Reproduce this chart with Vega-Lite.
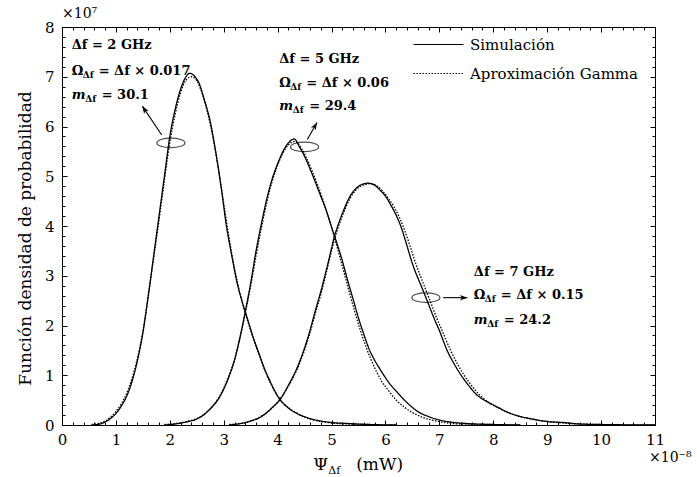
{
  "$schema": "https://vega.github.io/schema/vega-lite/v6.json",
  "width": 593,
  "height": 398,
  "autosize": "none",
  "padding": {"left": 62, "top": 27, "right": 42, "bottom": 52},
  "background": "white",
  "config": {
    "view": {"stroke": "black", "strokeWidth": 1},
    "font": "DejaVu Serif",
    "axis": {"domainColor": "black", "tickColor": "black", "labelColor": "black", "titleColor": "black", "grid": false, "labelFont": "DejaVu Serif", "titleFont": "DejaVu Serif", "domainWidth": 1, "tickWidth": 1}
  },
  "datasets": {
    "curves": [
      {"c":"a","t":"Simulación","x":0.55,"y":0},{"c":"a","t":"Simulación","x":0.7,"y":0.02},{"c":"a","t":"Simulación","x":0.8,"y":0.06},{"c":"a","t":"Simulación","x":0.9,"y":0.13},{"c":"a","t":"Simulación","x":1.0,"y":0.23},{"c":"a","t":"Simulación","x":1.1,"y":0.38},{"c":"a","t":"Simulación","x":1.2,"y":0.58},{"c":"a","t":"Simulación","x":1.3,"y":0.88},{"c":"a","t":"Simulación","x":1.4,"y":1.3},{"c":"a","t":"Simulación","x":1.5,"y":1.85},{"c":"a","t":"Simulación","x":1.6,"y":2.6},{"c":"a","t":"Simulación","x":1.7,"y":3.4},{"c":"a","t":"Simulación","x":1.8,"y":4.2},{"c":"a","t":"Simulación","x":1.9,"y":5.0},{"c":"a","t":"Simulación","x":2.0,"y":5.8},{"c":"a","t":"Simulación","x":2.1,"y":6.35},{"c":"a","t":"Simulación","x":2.2,"y":6.75},{"c":"a","t":"Simulación","x":2.3,"y":7.0},{"c":"a","t":"Simulación","x":2.37,"y":7.07},{"c":"a","t":"Simulación","x":2.45,"y":7.02},{"c":"a","t":"Simulación","x":2.55,"y":6.85},{"c":"a","t":"Simulación","x":2.65,"y":6.5},{"c":"a","t":"Simulación","x":2.75,"y":6.1},{"c":"a","t":"Simulación","x":2.85,"y":5.5},{"c":"a","t":"Simulación","x":2.95,"y":4.8},{"c":"a","t":"Simulación","x":3.05,"y":4.0},{"c":"a","t":"Simulación","x":3.15,"y":3.4},{"c":"a","t":"Simulación","x":3.25,"y":2.85},{"c":"a","t":"Simulación","x":3.35,"y":2.45},{"c":"a","t":"Simulación","x":3.45,"y":2.1},{"c":"a","t":"Simulación","x":3.55,"y":1.75},{"c":"a","t":"Simulación","x":3.65,"y":1.45},{"c":"a","t":"Simulación","x":3.75,"y":1.15},{"c":"a","t":"Simulación","x":3.85,"y":0.9},{"c":"a","t":"Simulación","x":3.95,"y":0.68},{"c":"a","t":"Simulación","x":4.05,"y":0.5},{"c":"a","t":"Simulación","x":4.2,"y":0.34},{"c":"a","t":"Simulación","x":4.4,"y":0.21},{"c":"a","t":"Simulación","x":4.6,"y":0.13},{"c":"a","t":"Simulación","x":4.8,"y":0.08},{"c":"a","t":"Simulación","x":5.0,"y":0.05},{"c":"a","t":"Simulación","x":5.3,"y":0.03},{"c":"a","t":"Simulación","x":5.7,"y":0.01},{"c":"a","t":"Simulación","x":6.2,"y":0},
      {"c":"b","t":"Simulación","x":1.9,"y":0},{"c":"b","t":"Simulación","x":2.1,"y":0.02},{"c":"b","t":"Simulación","x":2.3,"y":0.06},{"c":"b","t":"Simulación","x":2.5,"y":0.12},{"c":"b","t":"Simulación","x":2.6,"y":0.18},{"c":"b","t":"Simulación","x":2.7,"y":0.27},{"c":"b","t":"Simulación","x":2.8,"y":0.38},{"c":"b","t":"Simulación","x":2.9,"y":0.52},{"c":"b","t":"Simulación","x":3.0,"y":0.72},{"c":"b","t":"Simulación","x":3.1,"y":0.98},{"c":"b","t":"Simulación","x":3.2,"y":1.3},{"c":"b","t":"Simulación","x":3.3,"y":1.75},{"c":"b","t":"Simulación","x":3.4,"y":2.28},{"c":"b","t":"Simulación","x":3.5,"y":2.85},{"c":"b","t":"Simulación","x":3.6,"y":3.5},{"c":"b","t":"Simulación","x":3.7,"y":4.05},{"c":"b","t":"Simulación","x":3.8,"y":4.55},{"c":"b","t":"Simulación","x":3.9,"y":4.95},{"c":"b","t":"Simulación","x":4.0,"y":5.25},{"c":"b","t":"Simulación","x":4.1,"y":5.5},{"c":"b","t":"Simulación","x":4.2,"y":5.67},{"c":"b","t":"Simulación","x":4.31,"y":5.75},{"c":"b","t":"Simulación","x":4.4,"y":5.6},{"c":"b","t":"Simulación","x":4.5,"y":5.4},{"c":"b","t":"Simulación","x":4.6,"y":5.15},{"c":"b","t":"Simulación","x":4.7,"y":4.88},{"c":"b","t":"Simulación","x":4.8,"y":4.6},{"c":"b","t":"Simulación","x":4.9,"y":4.32},{"c":"b","t":"Simulación","x":5.0,"y":3.98},{"c":"b","t":"Simulación","x":5.1,"y":3.65},{"c":"b","t":"Simulación","x":5.2,"y":3.3},{"c":"b","t":"Simulación","x":5.3,"y":2.9},{"c":"b","t":"Simulación","x":5.4,"y":2.53},{"c":"b","t":"Simulación","x":5.5,"y":2.15},{"c":"b","t":"Simulación","x":5.6,"y":1.82},{"c":"b","t":"Simulación","x":5.7,"y":1.52},{"c":"b","t":"Simulación","x":5.8,"y":1.3},{"c":"b","t":"Simulación","x":5.9,"y":1.12},{"c":"b","t":"Simulación","x":6.0,"y":0.95},{"c":"b","t":"Simulación","x":6.1,"y":0.8},{"c":"b","t":"Simulación","x":6.2,"y":0.68},{"c":"b","t":"Simulación","x":6.3,"y":0.56},{"c":"b","t":"Simulación","x":6.45,"y":0.4},{"c":"b","t":"Simulación","x":6.6,"y":0.27},{"c":"b","t":"Simulación","x":6.8,"y":0.17},{"c":"b","t":"Simulación","x":7.0,"y":0.1},{"c":"b","t":"Simulación","x":7.2,"y":0.06},{"c":"b","t":"Simulación","x":7.5,"y":0.03},{"c":"b","t":"Simulación","x":8.0,"y":0.01},{"c":"b","t":"Simulación","x":8.5,"y":0},
      {"c":"c","t":"Simulación","x":3.1,"y":0},{"c":"c","t":"Simulación","x":3.36,"y":0.04},{"c":"c","t":"Simulación","x":3.5,"y":0.08},{"c":"c","t":"Simulación","x":3.67,"y":0.15},{"c":"c","t":"Simulación","x":3.8,"y":0.25},{"c":"c","t":"Simulación","x":3.9,"y":0.35},{"c":"c","t":"Simulación","x":4.03,"y":0.49},{"c":"c","t":"Simulación","x":4.2,"y":0.8},{"c":"c","t":"Simulación","x":4.4,"y":1.25},{"c":"c","t":"Simulación","x":4.6,"y":1.9},{"c":"c","t":"Simulación","x":4.7,"y":2.3},{"c":"c","t":"Simulación","x":4.8,"y":2.68},{"c":"c","t":"Simulación","x":4.9,"y":3.1},{"c":"c","t":"Simulación","x":5.0,"y":3.55},{"c":"c","t":"Simulación","x":5.06,"y":3.82},{"c":"c","t":"Simulación","x":5.1,"y":3.95},{"c":"c","t":"Simulación","x":5.2,"y":4.25},{"c":"c","t":"Simulación","x":5.34,"y":4.59},{"c":"c","t":"Simulación","x":5.45,"y":4.75},{"c":"c","t":"Simulación","x":5.55,"y":4.83},{"c":"c","t":"Simulación","x":5.68,"y":4.86},{"c":"c","t":"Simulación","x":5.8,"y":4.82},{"c":"c","t":"Simulación","x":5.9,"y":4.72},{"c":"c","t":"Simulación","x":6.0,"y":4.6},{"c":"c","t":"Simulación","x":6.1,"y":4.42},{"c":"c","t":"Simulación","x":6.21,"y":4.19},{"c":"c","t":"Simulación","x":6.3,"y":3.95},{"c":"c","t":"Simulación","x":6.4,"y":3.6},{"c":"c","t":"Simulación","x":6.52,"y":3.18},{"c":"c","t":"Simulación","x":6.65,"y":2.83},{"c":"c","t":"Simulación","x":6.77,"y":2.51},{"c":"c","t":"Simulación","x":6.9,"y":2.15},{"c":"c","t":"Simulación","x":7.0,"y":1.9},{"c":"c","t":"Simulación","x":7.14,"y":1.51},{"c":"c","t":"Simulación","x":7.3,"y":1.18},{"c":"c","t":"Simulación","x":7.51,"y":0.84},{"c":"c","t":"Simulación","x":7.7,"y":0.6},{"c":"c","t":"Simulación","x":7.9,"y":0.46},{"c":"c","t":"Simulación","x":8.06,"y":0.37},{"c":"c","t":"Simulación","x":8.3,"y":0.24},{"c":"c","t":"Simulación","x":8.5,"y":0.17},{"c":"c","t":"Simulación","x":8.68,"y":0.13},{"c":"c","t":"Simulación","x":9.0,"y":0.07},{"c":"c","t":"Simulación","x":9.3,"y":0.05},{"c":"c","t":"Simulación","x":9.6,"y":0.02},{"c":"c","t":"Simulación","x":10.0,"y":0.01},{"c":"c","t":"Simulación","x":11.0,"y":0},
      {"c":"d","t":"Aproximación Gamma","x":0.55,"y":0.01},{"c":"d","t":"Aproximación Gamma","x":0.7,"y":0.04},{"c":"d","t":"Aproximación Gamma","x":0.8,"y":0.08},{"c":"d","t":"Aproximación Gamma","x":0.9,"y":0.16},{"c":"d","t":"Aproximación Gamma","x":1.0,"y":0.27},{"c":"d","t":"Aproximación Gamma","x":1.1,"y":0.43},{"c":"d","t":"Aproximación Gamma","x":1.2,"y":0.64},{"c":"d","t":"Aproximación Gamma","x":1.3,"y":0.94},{"c":"d","t":"Aproximación Gamma","x":1.4,"y":1.34},{"c":"d","t":"Aproximación Gamma","x":1.5,"y":1.88},{"c":"d","t":"Aproximación Gamma","x":1.6,"y":2.58},{"c":"d","t":"Aproximación Gamma","x":1.7,"y":3.35},{"c":"d","t":"Aproximación Gamma","x":1.8,"y":4.12},{"c":"d","t":"Aproximación Gamma","x":1.9,"y":4.92},{"c":"d","t":"Aproximación Gamma","x":2.0,"y":5.68},{"c":"d","t":"Aproximación Gamma","x":2.1,"y":6.25},{"c":"d","t":"Aproximación Gamma","x":2.2,"y":6.68},{"c":"d","t":"Aproximación Gamma","x":2.3,"y":6.93},{"c":"d","t":"Aproximación Gamma","x":2.4,"y":7.0},{"c":"d","t":"Aproximación Gamma","x":2.5,"y":6.92},{"c":"d","t":"Aproximación Gamma","x":2.6,"y":6.66},{"c":"d","t":"Aproximación Gamma","x":2.7,"y":6.28},{"c":"d","t":"Aproximación Gamma","x":2.8,"y":5.78},{"c":"d","t":"Aproximación Gamma","x":2.9,"y":5.15},{"c":"d","t":"Aproximación Gamma","x":3.0,"y":4.45},{"c":"d","t":"Aproximación Gamma","x":3.1,"y":3.75},{"c":"d","t":"Aproximación Gamma","x":3.2,"y":3.15},{"c":"d","t":"Aproximación Gamma","x":3.3,"y":2.65},{"c":"d","t":"Aproximación Gamma","x":3.4,"y":2.25},{"c":"d","t":"Aproximación Gamma","x":3.5,"y":1.9},{"c":"d","t":"Aproximación Gamma","x":3.6,"y":1.58},{"c":"d","t":"Aproximación Gamma","x":3.7,"y":1.28},{"c":"d","t":"Aproximación Gamma","x":3.8,"y":1.0},{"c":"d","t":"Aproximación Gamma","x":3.9,"y":0.77},{"c":"d","t":"Aproximación Gamma","x":4.0,"y":0.58},{"c":"d","t":"Aproximación Gamma","x":4.1,"y":0.45},{"c":"d","t":"Aproximación Gamma","x":4.2,"y":0.35},{"c":"d","t":"Aproximación Gamma","x":4.4,"y":0.21},{"c":"d","t":"Aproximación Gamma","x":4.6,"y":0.12},{"c":"d","t":"Aproximación Gamma","x":4.8,"y":0.07},{"c":"d","t":"Aproximación Gamma","x":5.0,"y":0.04},{"c":"d","t":"Aproximación Gamma","x":5.3,"y":0.02},{"c":"d","t":"Aproximación Gamma","x":5.7,"y":0.01},{"c":"d","t":"Aproximación Gamma","x":6.2,"y":0},
      {"c":"e","t":"Aproximación Gamma","x":1.9,"y":0.01},{"c":"e","t":"Aproximación Gamma","x":2.1,"y":0.03},{"c":"e","t":"Aproximación Gamma","x":2.3,"y":0.07},{"c":"e","t":"Aproximación Gamma","x":2.5,"y":0.13},{"c":"e","t":"Aproximación Gamma","x":2.6,"y":0.19},{"c":"e","t":"Aproximación Gamma","x":2.7,"y":0.28},{"c":"e","t":"Aproximación Gamma","x":2.8,"y":0.39},{"c":"e","t":"Aproximación Gamma","x":2.9,"y":0.54},{"c":"e","t":"Aproximación Gamma","x":3.0,"y":0.74},{"c":"e","t":"Aproximación Gamma","x":3.1,"y":1.0},{"c":"e","t":"Aproximación Gamma","x":3.2,"y":1.32},{"c":"e","t":"Aproximación Gamma","x":3.3,"y":1.75},{"c":"e","t":"Aproximación Gamma","x":3.4,"y":2.25},{"c":"e","t":"Aproximación Gamma","x":3.5,"y":2.8},{"c":"e","t":"Aproximación Gamma","x":3.6,"y":3.4},{"c":"e","t":"Aproximación Gamma","x":3.7,"y":3.97},{"c":"e","t":"Aproximación Gamma","x":3.8,"y":4.48},{"c":"e","t":"Aproximación Gamma","x":3.9,"y":4.9},{"c":"e","t":"Aproximación Gamma","x":4.0,"y":5.22},{"c":"e","t":"Aproximación Gamma","x":4.1,"y":5.47},{"c":"e","t":"Aproximación Gamma","x":4.2,"y":5.63},{"c":"e","t":"Aproximación Gamma","x":4.33,"y":5.7},{"c":"e","t":"Aproximación Gamma","x":4.43,"y":5.58},{"c":"e","t":"Aproximación Gamma","x":4.53,"y":5.38},{"c":"e","t":"Aproximación Gamma","x":4.63,"y":5.13},{"c":"e","t":"Aproximación Gamma","x":4.73,"y":4.86},{"c":"e","t":"Aproximación Gamma","x":4.83,"y":4.56},{"c":"e","t":"Aproximación Gamma","x":4.93,"y":4.22},{"c":"e","t":"Aproximación Gamma","x":5.03,"y":3.86},{"c":"e","t":"Aproximación Gamma","x":5.13,"y":3.47},{"c":"e","t":"Aproximación Gamma","x":5.23,"y":3.07},{"c":"e","t":"Aproximación Gamma","x":5.33,"y":2.67},{"c":"e","t":"Aproximación Gamma","x":5.43,"y":2.28},{"c":"e","t":"Aproximación Gamma","x":5.53,"y":1.92},{"c":"e","t":"Aproximación Gamma","x":5.63,"y":1.6},{"c":"e","t":"Aproximación Gamma","x":5.73,"y":1.32},{"c":"e","t":"Aproximación Gamma","x":5.83,"y":1.08},{"c":"e","t":"Aproximación Gamma","x":5.93,"y":0.88},{"c":"e","t":"Aproximación Gamma","x":6.05,"y":0.7},{"c":"e","t":"Aproximación Gamma","x":6.2,"y":0.5},{"c":"e","t":"Aproximación Gamma","x":6.35,"y":0.36},{"c":"e","t":"Aproximación Gamma","x":6.5,"y":0.25},{"c":"e","t":"Aproximación Gamma","x":6.7,"y":0.15},{"c":"e","t":"Aproximación Gamma","x":6.9,"y":0.09},{"c":"e","t":"Aproximación Gamma","x":7.1,"y":0.05},{"c":"e","t":"Aproximación Gamma","x":7.4,"y":0.02},{"c":"e","t":"Aproximación Gamma","x":8.0,"y":0.01},{"c":"e","t":"Aproximación Gamma","x":8.5,"y":0},
      {"c":"f","t":"Aproximación Gamma","x":3.1,"y":0.01},{"c":"f","t":"Aproximación Gamma","x":3.36,"y":0.04},{"c":"f","t":"Aproximación Gamma","x":3.5,"y":0.08},{"c":"f","t":"Aproximación Gamma","x":3.67,"y":0.16},{"c":"f","t":"Aproximación Gamma","x":3.8,"y":0.25},{"c":"f","t":"Aproximación Gamma","x":3.9,"y":0.35},{"c":"f","t":"Aproximación Gamma","x":4.03,"y":0.5},{"c":"f","t":"Aproximación Gamma","x":4.2,"y":0.78},{"c":"f","t":"Aproximación Gamma","x":4.4,"y":1.22},{"c":"f","t":"Aproximación Gamma","x":4.6,"y":1.85},{"c":"f","t":"Aproximación Gamma","x":4.7,"y":2.25},{"c":"f","t":"Aproximación Gamma","x":4.8,"y":2.62},{"c":"f","t":"Aproximación Gamma","x":4.9,"y":3.05},{"c":"f","t":"Aproximación Gamma","x":5.0,"y":3.5},{"c":"f","t":"Aproximación Gamma","x":5.1,"y":3.9},{"c":"f","t":"Aproximación Gamma","x":5.2,"y":4.2},{"c":"f","t":"Aproximación Gamma","x":5.34,"y":4.55},{"c":"f","t":"Aproximación Gamma","x":5.45,"y":4.72},{"c":"f","t":"Aproximación Gamma","x":5.58,"y":4.82},{"c":"f","t":"Aproximación Gamma","x":5.72,"y":4.85},{"c":"f","t":"Aproximación Gamma","x":5.85,"y":4.8},{"c":"f","t":"Aproximación Gamma","x":5.95,"y":4.7},{"c":"f","t":"Aproximación Gamma","x":6.05,"y":4.56},{"c":"f","t":"Aproximación Gamma","x":6.15,"y":4.4},{"c":"f","t":"Aproximación Gamma","x":6.26,"y":4.17},{"c":"f","t":"Aproximación Gamma","x":6.35,"y":3.93},{"c":"f","t":"Aproximación Gamma","x":6.45,"y":3.62},{"c":"f","t":"Aproximación Gamma","x":6.57,"y":3.22},{"c":"f","t":"Aproximación Gamma","x":6.7,"y":2.85},{"c":"f","t":"Aproximación Gamma","x":6.82,"y":2.52},{"c":"f","t":"Aproximación Gamma","x":6.95,"y":2.15},{"c":"f","t":"Aproximación Gamma","x":7.05,"y":1.9},{"c":"f","t":"Aproximación Gamma","x":7.2,"y":1.52},{"c":"f","t":"Aproximación Gamma","x":7.35,"y":1.2},{"c":"f","t":"Aproximación Gamma","x":7.55,"y":0.86},{"c":"f","t":"Aproximación Gamma","x":7.75,"y":0.6},{"c":"f","t":"Aproximación Gamma","x":7.95,"y":0.43},{"c":"f","t":"Aproximación Gamma","x":8.1,"y":0.34},{"c":"f","t":"Aproximación Gamma","x":8.3,"y":0.24},{"c":"f","t":"Aproximación Gamma","x":8.5,"y":0.17},{"c":"f","t":"Aproximación Gamma","x":8.7,"y":0.12},{"c":"f","t":"Aproximación Gamma","x":9.0,"y":0.07},{"c":"f","t":"Aproximación Gamma","x":9.3,"y":0.04},{"c":"f","t":"Aproximación Gamma","x":9.6,"y":0.02},{"c":"f","t":"Aproximación Gamma","x":10.0,"y":0.01},{"c":"f","t":"Aproximación Gamma","x":11.0,"y":0}
    ],
    "notes": [
      {"x":0.18,"y":7.64,"k":"h","sym":"Δf = 2 GHz","sub":"","rest":""},
      {"x":0.18,"y":7.12,"k":"o","sym":"Ω","sub":"Δf","rest":"= Δf × 0.017"},
      {"x":0.18,"y":6.63,"k":"m","sym":"m","sub":"Δf","rest":"= 30.1"},
      {"x":4.03,"y":7.36,"k":"h","sym":"Δf = 5 GHz","sub":"","rest":""},
      {"x":4.03,"y":6.87,"k":"o","sym":"Ω","sub":"Δf","rest":"= Δf × 0.06"},
      {"x":4.03,"y":6.41,"k":"m","sym":"m","sub":"Δf","rest":"= 29.4"},
      {"x":7.64,"y":3.08,"k":"h","sym":"Δf = 7 GHz","sub":"","rest":""},
      {"x":7.64,"y":2.61,"k":"o","sym":"Ω","sub":"Δf","rest":"= Δf × 0.15"},
      {"x":7.64,"y":2.11,"k":"m","sym":"m","sub":"Δf","rest":"= 24.2"}
    ],
    "ellipses": [
      {"x":2.02,"y":5.67},{"x":4.5,"y":5.59},{"x":6.75,"y":2.56}
    ],
    "arrows": [
      {"x":1.85,"y":5.83,"x2":1.49,"y2":6.41,"angle":327},
      {"x":4.55,"y":5.74,"x2":4.73,"y2":6.08,"angle":30},
      {"x":7.07,"y":2.56,"x2":7.52,"y2":2.56,"angle":90}
    ],
    "origin": [{"x":0,"y":0,"x8":11,"y8":8}]
  },
  "layer": [
    {
      "data": {"name": "curves"},
      "mark": {"type": "line", "color": "black", "strokeWidth": 1.3, "interpolate": "monotone"},
      "encoding": {
        "x": {"field": "x", "type": "quantitative", "scale": {"domain": [0, 11], "nice": false, "zero": false},
              "axis": {"orient": "bottom", "values": [0,1,2,3,4,5,6,7,8,9,10,11], "format": "d", "tickSize": -5, "labelPadding": 12, "labelFontSize": 15, "title": null, "labelFlush": false, "labelOverlap": false}},
        "y": {"field": "y", "type": "quantitative", "scale": {"domain": [0, 8], "nice": false},
              "axis": {"orient": "left", "values": [0,1,2,3,4,5,6,7,8], "format": "d", "tickSize": -5, "labelPadding": 13, "labelFontSize": 15, "labelFlush": false, "labelOverlap": false,
                       "title": "Función densidad de probabilidad", "titleFontSize": 17, "titleFontWeight": "normal", "titleX": -28, "titleY": 211, "titleAngle": -90, "titleBaseline": "bottom", "titleAlign": "center"}},
        "detail": {"field": "c"},
        "strokeDash": {"field": "t", "type": "nominal",
                       "scale": {"domain": ["Simulación", "Aproximación Gamma"], "range": [[1, 0], [1.5, 1.5]]},
                       "legend": {"orient": "none", "legendX": 369, "legendY": 10, "title": null, "symbolType": "M-5,0L5,0", "symbolSize": 100, "symbolStrokeWidth": 1.2, "symbolStrokeColor": "black", "symbolFillColor": "transparent", "labelFontSize": 15, "labelFont": "DejaVu Serif", "labelColor": "black", "rowPadding": 13, "labelOffset": 24, "labelLimit": 400, "padding": 0}}
      }
    },
    {
      "data": {"name": "ellipses"},
      "mark": {"type": "point", "filled": false, "stroke": "black", "strokeWidth": 1.2, "size": 784, "shape": "M-1,0A1,0.34,0,1,1,1,0A1,0.34,0,1,1,-1,0Z"},
      "encoding": {
        "x": {"field": "x", "type": "quantitative", "scale": {"domain": [0, 11], "nice": false, "zero": false},
              "axis": {"orient": "bottom", "values": [0.2,0.4,0.6,0.8,1.2,1.4,1.6,1.8,2.2,2.4,2.6,2.8,3.2,3.4,3.6,3.8,4.2,4.4,4.6,4.8,5.2,5.4,5.6,5.8,6.2,6.4,6.6,6.8,7.2,7.4,7.6,7.8,8.2,8.4,8.6,8.8,9.2,9.4,9.6,9.8,10.2,10.4,10.6,10.8], "tickSize": -3, "labels": false, "domain": false, "title": null}},
        "y": {"field": "y", "type": "quantitative", "scale": {"domain": [0, 8], "nice": false},
              "axis": {"orient": "left", "values": [0.2,0.4,0.6,0.8,1.2,1.4,1.6,1.8,2.2,2.4,2.6,2.8,3.2,3.4,3.6,3.8,4.2,4.4,4.6,4.8,5.2,5.4,5.6,5.8,6.2,6.4,6.6,6.8,7.2,7.4,7.6,7.8], "tickSize": -3, "labels": false, "domain": false, "title": null}}
      }
    },
    {
      "data": {"name": "arrows"},
      "mark": {"type": "rule", "color": "black", "strokeWidth": 1.1},
      "encoding": {
        "x": {"field": "x", "type": "quantitative", "scale": {"domain": [0, 11], "nice": false, "zero": false},
              "axis": {"orient": "top", "values": [0,1,2,3,4,5,6,7,8,9,10,11], "tickSize": -5, "labels": false, "title": null}},
        "y": {"field": "y", "type": "quantitative", "scale": {"domain": [0, 8], "nice": false},
              "axis": {"orient": "right", "values": [0,1,2,3,4,5,6,7,8], "tickSize": -5, "labels": false, "title": null}},
        "x2": {"field": "x2"},
        "y2": {"field": "y2"}
      }
    },
    {
      "data": {"name": "arrows"},
      "mark": {"type": "point", "filled": true, "color": "black", "size": 100, "shape": "M0,0L0.55,1.5L0,1.1L-0.55,1.5Z", "opacity": 1},
      "encoding": {
        "x": {"field": "x2", "type": "quantitative", "scale": {"domain": [0, 11], "nice": false, "zero": false},
              "axis": {"orient": "top", "values": [0.2,0.4,0.6,0.8,1.2,1.4,1.6,1.8,2.2,2.4,2.6,2.8,3.2,3.4,3.6,3.8,4.2,4.4,4.6,4.8,5.2,5.4,5.6,5.8,6.2,6.4,6.6,6.8,7.2,7.4,7.6,7.8,8.2,8.4,8.6,8.8,9.2,9.4,9.6,9.8,10.2,10.4,10.6,10.8], "tickSize": -3, "labels": false, "domain": false, "title": null}},
        "y": {"field": "y2", "type": "quantitative", "scale": {"domain": [0, 8], "nice": false},
              "axis": {"orient": "right", "values": [0.2,0.4,0.6,0.8,1.2,1.4,1.6,1.8,2.2,2.4,2.6,2.8,3.2,3.4,3.6,3.8,4.2,4.4,4.6,4.8,5.2,5.4,5.6,5.8,6.2,6.4,6.6,6.8,7.2,7.4,7.6,7.8], "tickSize": -3, "labels": false, "domain": false, "title": null}},
        "angle": {"field": "angle", "type": "quantitative", "scale": null}
      }
    },
    {
      "data": {"name": "notes"},
      "transform": [{"filter": "datum.k !== 'm'"}],
      "mark": {"type": "text", "align": "left", "baseline": "middle", "fontSize": 13, "fontWeight": "bold", "font": "DejaVu Serif", "color": "black"},
      "encoding": {
        "x": {"field": "x", "type": "quantitative", "axis": null},
        "y": {"field": "y", "type": "quantitative", "axis": null},
        "text": {"field": "sym"}
      }
    },
    {
      "data": {"name": "notes"},
      "transform": [{"filter": "datum.k === 'm'"}],
      "mark": {"type": "text", "align": "left", "baseline": "middle", "fontSize": 13, "fontWeight": "bold", "fontStyle": "italic", "font": "DejaVu Serif", "color": "black"},
      "encoding": {
        "x": {"field": "x", "type": "quantitative", "axis": null},
        "y": {"field": "y", "type": "quantitative", "axis": null},
        "text": {"field": "sym"}
      }
    },
    {
      "data": {"name": "notes"},
      "transform": [{"filter": "datum.k === 'o'"}],
      "mark": {"type": "text", "align": "left", "baseline": "middle", "fontSize": 9, "fontWeight": "bold", "font": "DejaVu Serif", "color": "black", "dx": 11, "dy": 4},
      "encoding": {
        "x": {"field": "x", "type": "quantitative", "axis": null},
        "y": {"field": "y", "type": "quantitative", "axis": null},
        "text": {"field": "sub"}
      }
    },
    {
      "data": {"name": "notes"},
      "transform": [{"filter": "datum.k === 'm'"}],
      "mark": {"type": "text", "align": "left", "baseline": "middle", "fontSize": 9, "fontWeight": "bold", "font": "DejaVu Serif", "color": "black", "dx": 13.5, "dy": 4},
      "encoding": {
        "x": {"field": "x", "type": "quantitative", "axis": null},
        "y": {"field": "y", "type": "quantitative", "axis": null},
        "text": {"field": "sub"}
      }
    },
    {
      "data": {"name": "notes"},
      "transform": [{"filter": "datum.k === 'o'"}],
      "mark": {"type": "text", "align": "left", "baseline": "middle", "fontSize": 13, "fontWeight": "bold", "font": "DejaVu Serif", "color": "black", "dx": 27},
      "encoding": {
        "x": {"field": "x", "type": "quantitative", "axis": null},
        "y": {"field": "y", "type": "quantitative", "axis": null},
        "text": {"field": "rest"}
      }
    },
    {
      "data": {"name": "notes"},
      "transform": [{"filter": "datum.k === 'm'"}],
      "mark": {"type": "text", "align": "left", "baseline": "middle", "fontSize": 13, "fontWeight": "bold", "font": "DejaVu Serif", "color": "black", "dx": 30},
      "encoding": {
        "x": {"field": "x", "type": "quantitative", "axis": null},
        "y": {"field": "y", "type": "quantitative", "axis": null},
        "text": {"field": "rest"}
      }
    },
    {
      "data": {"name": "origin"},
      "mark": {"type": "text", "align": "left", "baseline": "middle", "fontSize": 14, "font": "DejaVu Serif", "color": "black", "dx": 0, "dy": -13, "text": "×10⁷"},
      "encoding": {
        "x": {"field": "x", "type": "quantitative", "axis": null},
        "y": {"field": "y8", "type": "quantitative", "axis": null}
      }
    },
    {
      "data": {"name": "origin"},
      "mark": {"type": "text", "align": "left", "baseline": "middle", "fontSize": 14, "font": "DejaVu Serif", "color": "black", "dx": -6, "dy": 33, "text": "×10⁻⁸"},
      "encoding": {
        "x": {"field": "x8", "type": "quantitative", "axis": null},
        "y": {"field": "y", "type": "quantitative", "axis": null}
      }
    },
    {
      "data": {"values": [{"x": 4.66, "y": 0, "a": "Ψ", "b": "Δf", "c": "(mW)"}]},
      "layer": [
        {"mark": {"type": "text", "align": "left", "baseline": "middle", "fontSize": 17, "font": "DejaVu Serif", "color": "black", "dy": 40},
         "encoding": {"x": {"field": "x", "type": "quantitative", "axis": null}, "y": {"field": "y", "type": "quantitative", "axis": null}, "text": {"field": "a"}}},
        {"mark": {"type": "text", "align": "left", "baseline": "middle", "fontSize": 11, "font": "DejaVu Serif", "color": "black", "dx": 15, "dy": 46},
         "encoding": {"x": {"field": "x", "type": "quantitative", "axis": null}, "y": {"field": "y", "type": "quantitative", "axis": null}, "text": {"field": "b"}}},
        {"mark": {"type": "text", "align": "left", "baseline": "middle", "fontSize": 17, "font": "DejaVu Serif", "color": "black", "dx": 43, "dy": 40},
         "encoding": {"x": {"field": "x", "type": "quantitative", "axis": null}, "y": {"field": "y", "type": "quantitative", "axis": null}, "text": {"field": "c"}}}
      ]
    }
  ],
  "resolve": {"axis": {"x": "independent", "y": "independent"}}
}
